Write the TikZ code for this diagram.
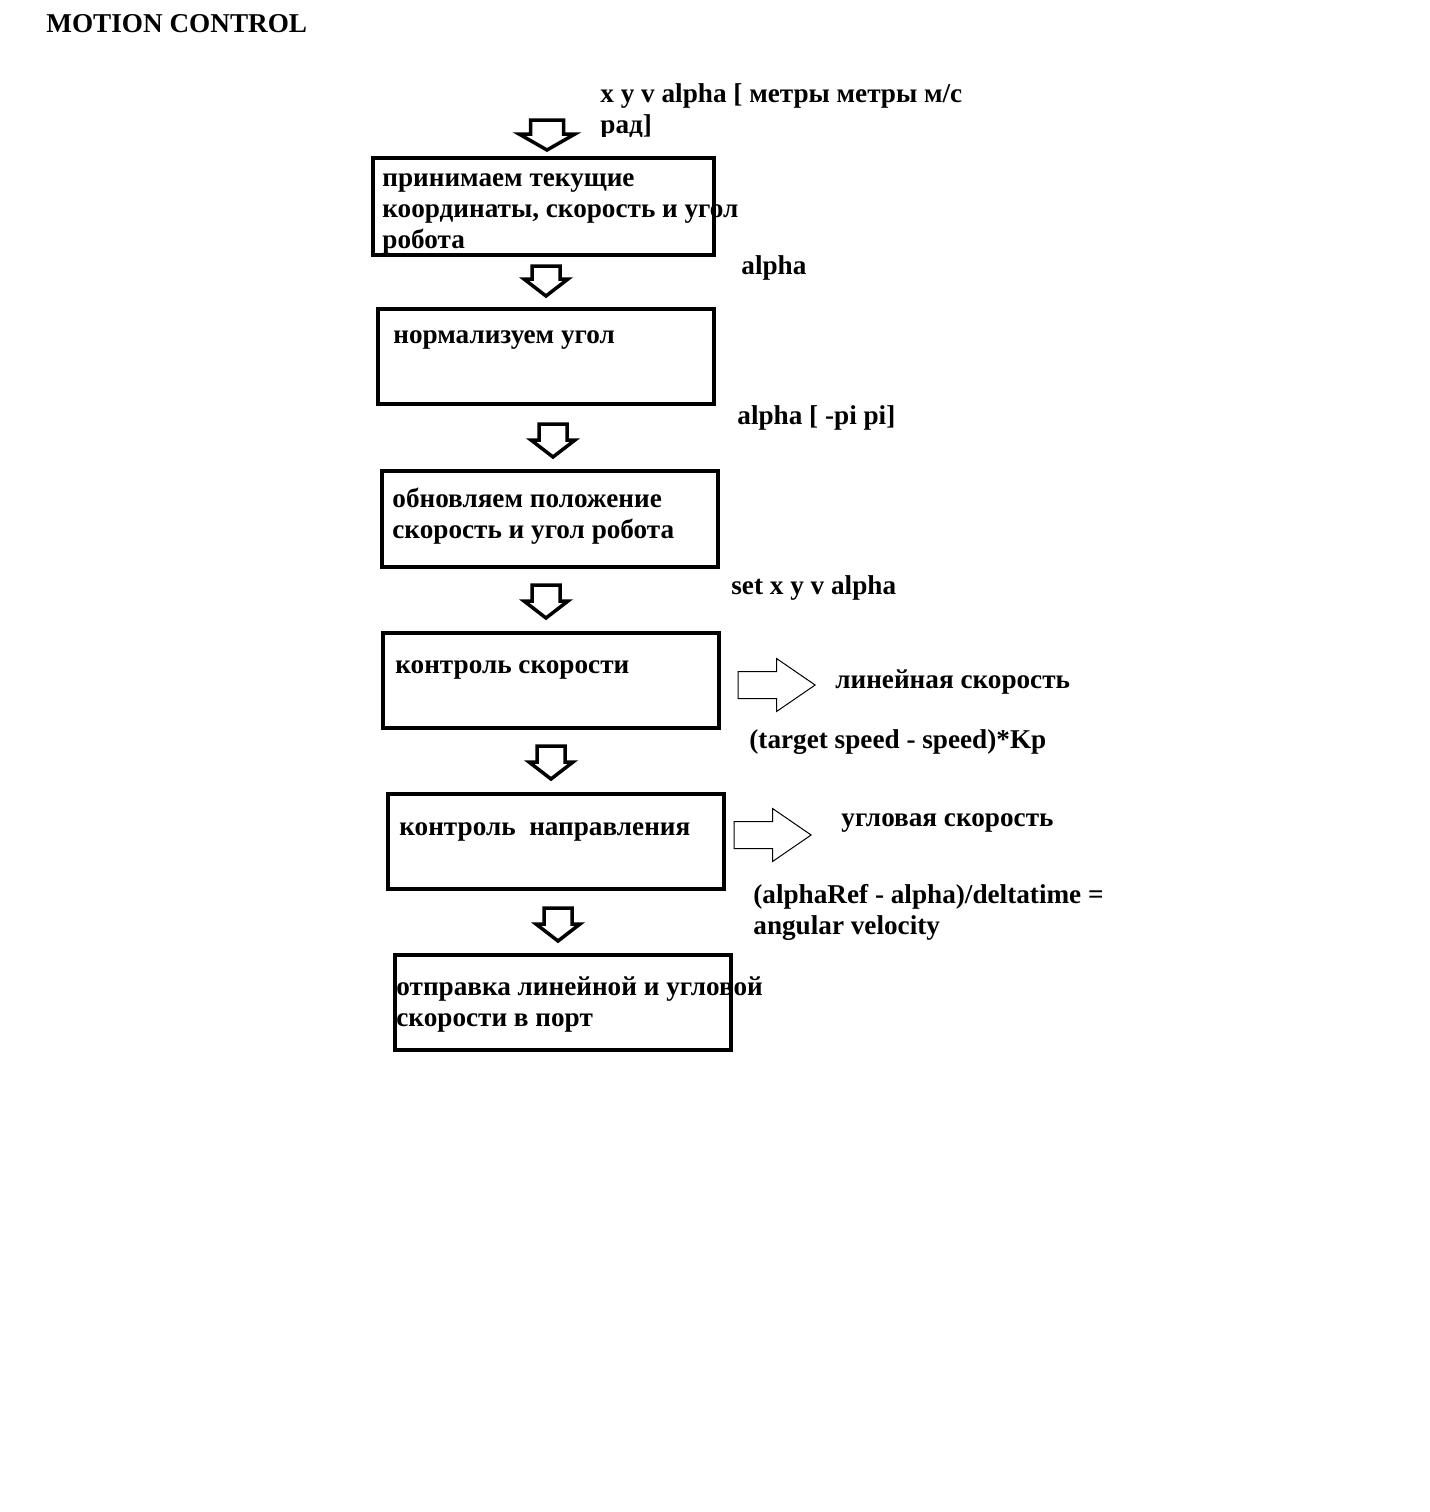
\documentclass[tikz,border=0pt]{standalone}
\usepackage{fontspec}
\setmainfont{Liberation Serif}
\usetikzlibrary{shapes.arrows}

\begin{document}
\begin{tikzpicture}[x=0.5pt, y=-0.5pt,
			stepbox/.style={rectangle, draw=black, line width=2pt, inner sep=0pt, minimum width=168pt, minimum height=47.5pt},
			txt/.style={anchor=base west, align=left, inner sep=0pt, font=\fontsize{13.6}{15.5}\selectfont\bfseries},
			pics/downblock/.style n args={4}{code={
				\draw[line width=1.75pt] (-#2,-#4) -- (#2,-#4) -- (#2,-#3) -- (#1,-#3) -- (0,0) -- (-#1,-#3) -- (-#2,-#3) -- cycle;
			}},
			rightarrow/.style={single arrow, draw=black, line width=0.5pt, anchor=tip, inner xsep=0pt, inner ysep=6.5pt, minimum height=38.5pt, single arrow head extend=6.5pt, single arrow tip angle=69},
			]
			\fill[white] (0,0) rectangle (1430,1512);
			%Nodes
				% title
				\node[txt]		(title)		at (46,32)		{MOTION CONTROL};
				% input (last line is cut at the bottom)
				\begin{scope}
					\clip (590,70) rectangle (1000,136);
					\node[txt]		(input)		at (600,133)		{x y v alpha [ метры метры м/с\\рад]};
				\end{scope}
				% boxes
				\node[stepbox, minimum width=170.5pt, minimum height=48.5pt]		(recv)		at (543.5,206.5)		{};
				\node[stepbox]		(norm)		at (546,356)		{};
				\node[stepbox, minimum height=48pt]		(update)		at (550,519)		{};
				\node[stepbox]		(speed)		at (551,680.5)		{};
				\node[stepbox]		(heading)		at (555.5,841)		{};
				\node[stepbox]		(send)		at (562.5,1002.5)		{};
				% box texts (base is the last line)
				\node[txt]		(recvtxt)		at (382,248)		{принимаем текущие\\координаты, скорость и угол\\робота};
				\node[txt]		(normtxt)		at (393,343)		{нормализуем угол};
				\node[txt]		(updatetxt)		at (392,538)		{обновляем положение\\скорость и угол робота};
				\node[txt]		(speedtxt)		at (395,673)		{контроль скорости};
				\node[txt]		(headingtxt)		at (399,835)		{контроль~ направления};
				\node[txt]		(sendtxt)		at (396,1026)		{отправка линейной и угловой\\скорости в порт};
				% side labels
				\node[txt]		(alpha1)		at (741,274)		{alpha};
				\node[txt]		(alpha2)		at (737,424)		{alpha [ -pi pi]};
				\node[txt]		(setxy)		at (731,594)		{set x y v alpha};
				\node[txt]		(linvel)		at (835,688)		{линейная скорость};
				\node[txt]		(linform)		at (749,748)		{(target speed - speed)*Kp};
				\node[txt]		(angvel)		at (841,826)		{угловая скорость};
				\node[txt]		(angform)		at (753,934)		{(alphaRef - alpha)/deltatime =\\angular velocity};

			%Arrows
				% down arrows between boxes (origin at the tip)
				\pic		(arr1)		at (547,150)		{downblock={28}{16.5}{16}{30}};
				\pic		(arr2)		at (546,296)		{downblock={22}{14}{17}{30}};
				\pic		(arr3)		at (553,457)		{downblock={22}{14}{17}{33}};
				\pic		(arr4)		at (546,618)		{downblock={22}{14}{17}{33}};
				\pic		(arr5)		at (551,779)		{downblock={22}{14}{17}{33}};
				\pic		(arr6)		at (558,941)		{downblock={22}{14}{17}{33}};
				% outputs
				\node[rightarrow]		(linarr)		at (816,685)		{};
				\node[rightarrow]		(angarr)		at (812,835)		{};
		\end{tikzpicture}
\end{document}
